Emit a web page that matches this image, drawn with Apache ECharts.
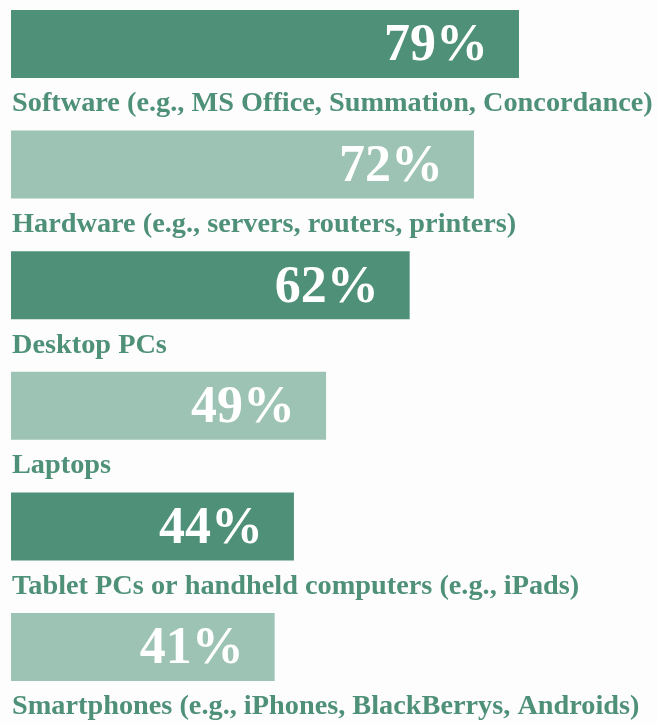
<!DOCTYPE html>
<html>
<head>
    <meta charset="utf-8">
    <title>Technology</title>
    <script src="https://cdn.jsdelivr.net/npm/echarts@6/dist/echarts.min.js"></script>
    <style type="text/css">
        html, body{
            margin: 0;
            padding: 0;
            background: #fdfdfd;
        }
        #chart{
            width: 657px;
            height: 723px;
        }
    </style>
</head>
<body>
    <div id="chart"></div>
    <script type="text/javascript">
        // data
        var categories = [
            'Software (e.g., MS Office, Summation, Concordance)',
            'Hardware (e.g., servers, routers, printers)',
            'Desktop PCs',
            'Laptops',
            'Tablet PCs or handheld computers (e.g., iPads)',
            'Smartphones (e.g., iPhones, BlackBerrys, Androids)'
        ];
        var values = [79, 72, 62, 49, 44, 41];

        var dark = '#4e9078',
            light = '#9cc3b4',
            serif = '"Liberation Serif", "DejaVu Serif", serif';

        var chart = echarts.init(document.getElementById('chart'));
        var option = {
            animation: false,
            backgroundColor: '#fdfdfd',
            grid: {
                left: 11,
                right: 3,
                top: 44,
                bottom: 76
            },
            xAxis: {
                type: 'value',
                min: 0,
                max: 100,
                show: false
            },
            yAxis: {
                type: 'category',
                data: categories,
                inverse: true,
                boundaryGap: false,
                show: false
            },
            series: [
                {
                    name: 'pct',
                    type: 'bar',
                    data: values,
                    barWidth: 68,
                    itemStyle: {
                        color: function(p){
                            return p.dataIndex % 2 === 0 ? dark : light;
                        }
                    },
                    label: {
                        show: true,
                        position: 'insideRight',
                        distance: 31,
                        offset: [0, 3],
                        formatter: '{c}%',
                        color: '#ffffff',
                        fontFamily: serif,
                        fontWeight: 'bold',
                        fontSize: 52
                    },
                    z: 2
                },
                {
                    // invisible copy, only there to carry the category text under each bar
                    name: 'names',
                    type: 'bar',
                    data: values,
                    barWidth: 68,
                    barGap: '-100%',
                    silent: true,
                    itemStyle: {
                        color: 'rgba(0,0,0,0)'
                    },
                    label: {
                        show: true,
                        position: [0, '100%'],
                        offset: [1, 12],
                        align: 'left',
                        verticalAlign: 'top',
                        formatter: function(p){
                            return categories[p.dataIndex];
                        },
                        color: dark,
                        fontFamily: serif,
                        fontWeight: 'bold',
                        fontSize: 28.3
                    },
                    z: 1
                }
            ]
        };
        chart.setOption(option);
    </script>
</body>
</html>
